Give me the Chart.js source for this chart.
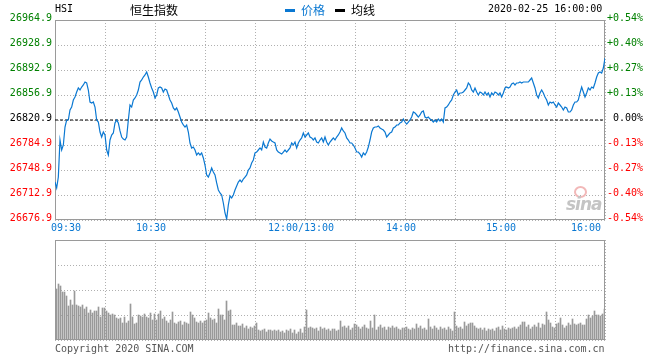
<!DOCTYPE html>
<html><head><meta charset="utf-8">
<script src="https://cdn.jsdelivr.net/npm/chart.js@4.4.1/dist/chart.umd.min.js"></script>
<style>
html,body{margin:0;padding:0;background:#fff;}
#wrap{position:relative;width:660px;height:360px;overflow:hidden;background:#fff;}
canvas{position:absolute;left:0;}
.t{position:absolute;white-space:nowrap;font-family:'DejaVu Sans Mono',monospace;font-size:10px;line-height:12px;color:#000;}
.cjk{position:absolute;white-space:nowrap;font-family:'Noto Sans CJK SC',sans-serif;font-size:12px;line-height:14px;}
.bar{position:absolute;width:10px;height:3px;}
</style></head><body>
<div id="wrap">
<canvas id="main" width="660" height="240" style="top:0;width:660px;height:240px"></canvas>
<canvas id="vol" width="660" height="130" style="top:230px;width:660px;height:130px"></canvas>
<div class="t" style="left:55px;top:3px">HSI</div>
<div class="cjk" style="left:130px;top:3px;color:#000">恒生指数</div>
<div class="bar" style="left:285px;top:9px;background:#0a78d2"></div>
<div class="cjk" style="left:301px;top:3px;color:#0a78d2">价格</div>
<div class="bar" style="left:335px;top:9px;background:#000"></div>
<div class="cjk" style="left:351px;top:3px;color:#000">均线</div>
<div class="t" style="left:488px;top:3px">2020-02-25 16:00:00</div>
<div class="t" style="left:55px;top:343px;color:#555">Copyright 2020 SINA.COM</div>
<div class="t" style="left:448px;top:343px;color:#555">http://finance.sina.com.cn</div>
<div style="position:absolute;left:574px;top:186px;width:9px;height:8px;border:2px solid #f2b8b8;border-radius:50%;"></div>
<div style="position:absolute;left:566px;top:194px;font:italic bold 17px 'DejaVu Sans',sans-serif;color:#c4c4c4;letter-spacing:-1px">sina</div>
</div>
<script>
// ---- data ----
const prevClose = 26820.9;
const yTicks = [26676.9, 26712.9, 26748.9, 26784.9, 26820.9, 26856.9, 26892.9, 26928.9, 26964.9];
const pctLabels = ['-0.54%', '-0.40%', '-0.27%', '-0.13%', '0.00%', '+0.13%', '+0.27%', '+0.40%', '+0.54%'];
const xGridMinutes = [0, 30, 60, 90, 120, 150, 180, 210, 240, 270, 300, 330];
const xTickMinutes = [0, 60, 150, 210, 270, 330];
const xTickLabels = ['09:30', '10:30', '12:00/13:00', '14:00', '15:00', '16:00'];
// one value per trading minute (09:30-12:00, 13:00-16:00)
const price = [
26731.6,26723.0,26738.8,26792.1,26777.7,26784.9,26810.8,26820.9,26820.9,26835.3,
26839.6,26849.7,26854.0,26861.2,26867.0,26864.1,26868.4,26871.3,26875.6,26874.2,
26864.1,26846.8,26845.4,26846.8,26839.6,26820.9,26818.0,26803.6,26796.4,26803.6,
26799.3,26777.7,26770.5,26792.1,26799.3,26802.2,26816.6,26820.9,26816.6,26805.1,
26796.4,26793.5,26792.1,26796.4,26820.9,26842.5,26839.6,26849.7,26852.6,26856.9,
26864.1,26875.6,26878.5,26882.8,26885.7,26890.0,26882.8,26874.2,26867.0,26861.2,
26852.6,26856.9,26867.0,26868.4,26867.0,26861.2,26865.5,26864.1,26856.9,26849.7,
26845.4,26838.2,26835.3,26838.2,26832.4,26825.2,26818.0,26813.7,26810.8,26813.7,
26803.6,26787.8,26780.6,26782.0,26777.7,26770.5,26773.4,26770.5,26773.4,26766.2,
26756.1,26741.7,26738.8,26744.6,26751.8,26746.0,26741.7,26730.2,26720.1,26715.8,
26712.9,26701.4,26687.0,26678.3,26698.5,26711.5,26708.6,26712.9,26720.1,26725.9,
26731.6,26734.5,26731.6,26735.9,26738.8,26741.7,26748.9,26751.8,26759.0,26763.3,
26773.4,26774.8,26777.7,26780.6,26777.7,26789.2,26782.0,26780.6,26787.8,26793.5,
26790.7,26789.2,26787.8,26777.7,26774.8,26773.4,26771.9,26774.8,26777.7,26774.8,
26777.7,26780.6,26787.8,26784.9,26789.2,26780.6,26787.8,26792.1,26795.0,26802.2,
26796.4,26799.3,26802.2,26796.4,26795.0,26792.1,26795.0,26789.2,26787.8,26792.1,
26795.0,26789.2,26796.4,26789.2,26784.9,26789.2,26792.1,26795.0,26792.1,26796.4,
26799.3,26803.6,26809.4,26805.1,26802.2,26795.0,26792.1,26787.8,26787.8,26784.9,
26780.6,26774.8,26774.8,26771.9,26767.6,26773.4,26770.5,26774.8,26782.0,26792.1,
26803.6,26809.4,26810.8,26810.8,26812.3,26809.4,26807.9,26806.5,26803.6,26796.4,
26799.3,26802.2,26803.6,26809.4,26810.8,26813.7,26813.7,26816.6,26818.0,26822.3,
26818.0,26815.1,26818.0,26820.9,26825.2,26832.4,26831.0,26828.1,26825.2,26828.1,
26832.4,26833.9,26825.2,26823.8,26825.2,26822.3,26820.9,26818.0,26820.9,26818.0,
26822.3,26819.5,26822.3,26818.0,26838.2,26839.6,26842.5,26846.8,26849.7,26856.9,
26861.2,26864.1,26856.9,26859.8,26859.8,26861.2,26864.1,26867.0,26874.2,26871.3,
26864.1,26861.2,26867.0,26861.2,26856.9,26861.2,26859.8,26856.9,26861.2,26856.9,
26859.8,26854.0,26859.8,26856.9,26861.2,26859.8,26856.9,26859.8,26854.0,26859.8,
26867.0,26868.4,26867.0,26868.4,26872.7,26874.2,26871.3,26874.2,26874.2,26875.6,
26874.2,26875.6,26875.6,26875.6,26875.6,26878.5,26881.4,26874.2,26867.0,26856.9,
26852.6,26859.8,26864.1,26859.8,26854.0,26849.7,26842.5,26846.8,26845.4,26846.8,
26842.5,26839.6,26845.4,26842.5,26839.6,26835.3,26839.6,26838.2,26832.4,26832.4,
26835.3,26842.5,26846.8,26846.8,26849.7,26859.8,26868.4,26861.2,26854.0,26859.8,
26867.0,26864.1,26868.4,26867.0,26874.2,26882.8,26888.6,26890.0,26888.6,26895.8,26910.2
];
// relative traded volume per bar (panel full scale = 100)
const volume = [
51,56,54,48,48,44,34,40,35,49,35,34,33,35,31,33,27,30,27,29,29,33,23,32,32,
29,27,25,26,25,22,21,22,17,23,17,19,36,23,16,17,25,24,23,26,23,22,27,20,26,
20,26,29,21,23,19,17,20,28,17,16,18,19,15,18,17,16,28,25,22,18,17,19,17,19,
20,27,22,20,21,17,31,25,25,20,39,29,30,15,15,17,14,14,16,12,14,11,13,12,14,
17,10,9,10,11,8,10,10,9,10,9,10,8,9,7,10,9,11,7,10,6,8,11,7,13,
30,12,13,12,11,12,9,13,11,12,10,11,9,11,11,9,10,19,13,14,12,14,10,12,16,
15,13,11,13,15,12,11,19,12,25,10,13,15,12,13,10,13,12,14,12,13,11,10,12,12,
13,11,10,12,11,16,12,14,11,12,10,21,13,11,14,12,10,13,11,12,10,13,11,9,28,
14,12,13,11,18,14,16,17,17,14,12,11,12,10,12,9,11,10,11,9,12,13,10,14,11,
10,12,11,12,13,11,13,15,18,18,13,15,11,13,15,13,17,12,16,15,28,20,17,13,12,
16,17,22,15,12,14,17,15,21,16,15,16,17,15,15,21,25,22,24,29,25,25,24,26,31
];
const volGridX = [0, 25, 50, 75, 100, 125, 150, 175, 200, 225, 250, 275];
const volGridY = [0, 25, 50, 75, 100];

// ---- styling ----
Chart.defaults.font.family = "'DejaVu Sans Mono', monospace";
Chart.defaults.font.size = 10;
const GRID = '#b0b0b0';
const BLUE = '#0a78d2';
function valColor(v) {
  if (Math.abs(v - prevClose) < 0.01) return '#000000';
  return v > prevClose ? '#008000' : '#ff0000';
}
const boxPlugin = {
  id: 'box',
  beforeDatasetsDraw(chart) {
    const a = chart.chartArea, c = chart.ctx;
    c.save();
    c.strokeStyle = '#9a9a9a';
    c.lineWidth = 1;
    c.strokeRect(Math.round(a.left) + 0.5, Math.round(a.top) + 0.5,
      Math.round(a.right - a.left) - 1, Math.round(a.bottom - a.top) - 1);
    c.restore();
  }
};

new Chart(document.getElementById('main'), {
  type: 'line',
  data: {
    datasets: [
      { data: price.map((v, i) => ({ x: i, y: v })), borderColor: BLUE, borderWidth: 1.2,
        pointRadius: 0, tension: 0, fill: false, order: 1 },
      { data: [{ x: 0, y: prevClose }, { x: 330, y: prevClose }], borderColor: '#000',
        borderWidth: 1, borderDash: [3, 2], pointRadius: 0, fill: false, order: 2 }
    ]
  },
  options: {
    responsive: false, animation: false, devicePixelRatio: 1,
    layout: { padding: { top: 20, left: 0, right: 0, bottom: 0 } },
    plugins: { legend: { display: false }, tooltip: { enabled: false } },
    scales: {
      x: {
        type: 'linear', min: 0, max: 330,
        afterBuildTicks(s) { s.ticks = xGridMinutes.map(v => ({ value: v })); },
        afterFit(s) { s.height = 20; },
        ticks: {
          autoSkip: false, maxRotation: 0, align: 'inner', padding: 2, labelOffset: -4,
          color: BLUE,
          font: { size: 10 },
          callback(v) { const k = xTickMinutes.indexOf(v); return k >= 0 ? xTickLabels[k] : ''; }
        },
        grid: { color: GRID, drawTicks: false, lineWidth: 1 },
        border: { display: false, dash: [1, 2] }
      },
      y: {
        position: 'left', min: yTicks[0], max: yTicks[yTicks.length - 1],
        afterBuildTicks(s) { s.ticks = yTicks.map(v => ({ value: v })); },
        afterFit(s) { s.width = 55; },
        ticks: {
          padding: 3, labelOffset: -2, font: { size: 10 },
          color: ctx => valColor(ctx.tick.value),
          callback(v) { return v.toFixed(1); }
        },
        grid: { color: GRID, drawTicks: false },
        border: { display: false, dash: [1, 2] }
      },
      y2: {
        position: 'right', min: yTicks[0], max: yTicks[yTicks.length - 1],
        afterBuildTicks(s) { s.ticks = yTicks.map(v => ({ value: v })); },
        afterFit(s) { s.width = 55; },
        ticks: {
          padding: 2, labelOffset: -2, font: { size: 10 },
          color: ctx => valColor(ctx.tick.value),
          callback(v) { const k = yTicks.indexOf(v); return k >= 0 ? (pctLabels[k] === '0.00%' ? ' 0.00%' : pctLabels[k]) : ''; }
        },
        grid: { display: false, drawTicks: false },
        border: { display: false }
      }
    }
  },
  plugins: [boxPlugin]
});

new Chart(document.getElementById('vol'), {
  type: 'bar',
  data: {
    datasets: [{
      data: volume.map((v, i) => ({ x: i + 0.75, y: v })),
      backgroundColor: '#999999', borderWidth: 0, barThickness: 1
    }]
  },
  options: {
    responsive: false, animation: false, devicePixelRatio: 1,
    layout: { padding: { top: 10, bottom: 20, left: 55, right: 55 } },
    plugins: { legend: { display: false }, tooltip: { enabled: false } },
    scales: {
      x: {
        type: 'linear', min: 0, max: 275, offset: false,
        afterBuildTicks(s) { s.ticks = volGridX.map(v => ({ value: v })); },
        afterFit(s) { s.height = 0; },
        ticks: { display: false },
        grid: { color: GRID, drawTicks: false, offset: false },
        border: { display: false, dash: [1, 2] }
      },
      y: {
        min: 0, max: 100,
        afterBuildTicks(s) { s.ticks = volGridY.map(v => ({ value: v })); },
        afterFit(s) { s.width = 0; },
        ticks: { display: false },
        grid: { color: GRID, drawTicks: false },
        border: { display: false, dash: [1, 2] }
      }
    }
  },
  plugins: [boxPlugin]
});
</script>
</body></html>
